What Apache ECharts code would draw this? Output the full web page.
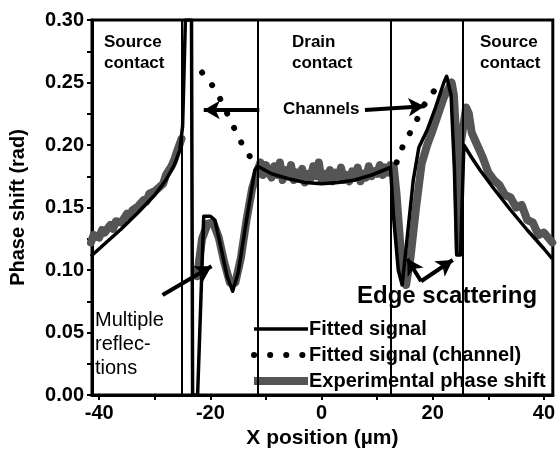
<!DOCTYPE html>
<html><head><meta charset="utf-8">
<script src="https://cdn.jsdelivr.net/npm/echarts@6/dist/echarts.min.js"></script>
<style>html,body{margin:0;padding:0;background:#fff}#c{width:558px;height:454px}</style>
</head><body><div id="c"></div>
<script>
// ---- data ----
const xTickLabels = [-40, -20, 0, 20, 40];
const xTicks = [-40, -30, -20, -10, 0, 10, 20, 30, 40];
const yTicks = [0, 0.025, 0.05, 0.075, 0.1, 0.125, 0.15, 0.175, 0.2, 0.225, 0.25, 0.275, 0.3];
const boundaries = [-25.2, -11.5, 12.4, 25.4];

const expX = [-41.5,-41,-40,-39.5,-39,-38,-37.5,-37,-36,-35,-34.5,-34,-33,-32,-31.5,-31,-30,-29,-28.5,-28,-27,-26.5,-26,-25.5,-25.2,
  -24.2,
  -22.4,-21.5,-20.5,-19.5,-18.5,-17.5,-16.5,-15.5,-14.5,-13.5,-12.5,
  -11.5,-11,-10.5,-10,-9.5,-9,-8.5,-8,-7.5,-7,-6.5,-6,-5.5,-5,-4.5,-4,-3.5,-3,-2.5,-2,-1.5,-1,-0.5,0,0.5,1,1.5,2,2.5,3,3.5,4,4.5,5,5.5,6,6.5,7,7.5,8,8.5,9,9.5,10,10.5,11,11.5,12,12.4,
  13,13.5,14,14.5,15.2,16,17,18,19,20,21,22,22.8,23.4,23.8,24.3,24.7,25,26,26.5,27,28,29,30,31,32,33,34,35,36,37,38,39,40,41.5];
const expY = [0.122,0.128,0.126,0.132,0.130,0.136,0.133,0.139,0.138,0.145,0.143,0.148,0.151,0.156,0.155,0.161,0.163,0.167,0.169,0.176,0.183,0.188,0.195,0.201,0.205,
  null,
  0.095,0.125,0.137,0.138,0.126,0.106,0.090,0.090,0.110,0.140,0.165,
  0.180,0.186,0.176,0.184,0.178,0.174,0.183,0.176,0.186,0.172,0.180,0.176,0.184,0.172,0.178,0.174,0.181,0.170,0.177,0.173,0.183,0.175,0.186,0.172,0.177,0.173,0.180,0.171,0.178,0.174,0.182,0.172,0.176,0.171,0.179,0.174,0.182,0.171,0.177,0.174,0.183,0.175,0.179,0.177,0.184,0.176,0.182,0.178,0.184,0.182,
  0.160,0.130,0.100,0.088,0.110,0.150,0.185,0.200,0.212,0.225,0.238,0.245,0.250,0.240,0.200,0.115,0.200,0.230,0.225,0.210,0.200,0.190,0.178,0.172,0.168,0.160,0.158,0.150,0.152,0.140,0.138,0.128,0.130,0.122,0.118];

const fitX = [-41.5,-39,-36,-33,-30,-28,-26.5,-25.5,-25.0,-24.5,-23.4,-23.2,-22.3,-21.2,-20.0,-19.2,-18.3,-17.0,-16.0,-15.0,-13.5,-12.0,-11.5,
  -9,-6,-3,0,3,6,9,12.4,
  13.0,13.8,14.5,15.5,16.5,17.5,19,20.5,22,22.5,23.3,23.9,24.3,25.0,25.6,27,28.5,31,34,37,40,41.5];
const fitY = [0.111,0.121,0.133,0.146,0.160,0.172,0.184,0.196,0.215,0.300,0.300,0.000,0.000,0.143,0.143,0.140,0.122,0.095,0.083,0.098,0.140,0.180,0.183,
  0.177,0.173,0.170,0.169,0.170,0.172,0.176,0.182,
  0.140,0.100,0.088,0.130,0.172,0.198,0.212,0.230,0.250,0.255,0.240,0.180,0.112,0.112,0.200,0.190,0.180,0.165,0.148,0.132,0.117,0.109];

const chX = [-21.5,-19,-16,-14,-12,null,13.5,14.7,16.7,18.3,20,22];
const chY = [0.258,0.244,0.216,0.198,0.185,null,0.186,0.200,0.216,0.231,0.242,0.252];

const seriesNames = ['Fitted signal', 'Fitted signal (channel)', 'Experimental phase shift'];

// ---- build ----
const pairs = (xs, ys) => xs.map((x, i) => (x === null || ys[i] === null) ? [x === null ? 0 : x, '-'] : [x, ys[i]]);
const FONT = "'Liberation Sans',Arial,sans-serif";
const chart = echarts.init(document.getElementById('c'), null, {renderer: 'canvas'});
const arrowLine = (a, b) => [{coord: a}, {coord: b}];

const fitStyle = {color: '#000', width: 3.5, join: 'round'};
const chStyle = {color: '#000', width: 6, type: [0.1, 16], cap: 'round'};
const expStyle = {color: '#555', width: 8, cap: 'round', join: 'round'};

chart.setOption({
  animation: false,
  backgroundColor: '#fff',
  grid: {left: 90, right: 3, top: 20, bottom: 57, show: true, borderColor: '#000', borderWidth: 3, backgroundColor: 'transparent'},
  xAxis: {
    type: 'value', min: -41.3, max: 41.6,
    name: 'X position (\u00b5m)', nameLocation: 'middle', nameGap: 33,
    nameTextStyle: {fontFamily: FONT, fontWeight: 'bold', fontSize: 21, color: '#000'},
    axisLine: {show: true, onZero: false, lineStyle: {color: '#000', width: 3}},
    axisTick: {show: true, inside: false, length: 5, customValues: xTicks, lineStyle: {color: '#000', width: 2}},
    axisLabel: {customValues: xTickLabels, fontFamily: FONT, fontWeight: 'bold', fontSize: 20, color: '#000', margin: 8},
    splitLine: {show: false}
  },
  yAxis: {
    type: 'value', min: 0, max: 0.30, interval: 0.05,
    name: 'Phase shift (rad)', nameLocation: 'middle', nameGap: 64,
    nameTextStyle: {fontFamily: FONT, fontWeight: 'bold', fontSize: 20, color: '#000'},
    axisLine: {show: true, onZero: false, lineStyle: {color: '#000', width: 3}},
    axisTick: {show: true, inside: false, length: 5, customValues: yTicks, lineStyle: {color: '#000', width: 2}},
    axisLabel: {fontFamily: FONT, fontWeight: 'bold', fontSize: 20, color: '#000', margin: 8,
      formatter: v => v.toFixed(2)},
    splitLine: {show: false}
  },
  legend: {
    show: true, orient: 'vertical', left: 245, top: 314, itemWidth: 54, itemHeight: 10, itemGap: 6,
    itemStyle: {opacity: 0},
    data: [
      {name: seriesNames[0], lineStyle: fitStyle, itemStyle: {opacity: 0}},
      {name: seriesNames[1], lineStyle: chStyle, itemStyle: {opacity: 0}},
      {name: seriesNames[2], lineStyle: {color: '#555', width: 8, cap: 'butt'}, itemStyle: {opacity: 0}}
    ],
    textStyle: {fontFamily: FONT, fontWeight: 'bold', fontSize: 20, color: '#000', padding: [0, 0, 0, -4]},
    selectedMode: false
  },
  series: [
    {
      name: seriesNames[2], type: 'line', data: pairs(expX, expY), symbol: 'none', z: 2,
      itemStyle: {color: '#555'},
      lineStyle: expStyle, connectNulls: false,
      markLine: {
        silent: true, symbol: 'none', animation: false,
        lineStyle: {color: '#000', width: 2, type: 'solid'}, label: {show: false},
        data: boundaries.map(b => ({xAxis: b}))
      }
    },
    {
      name: seriesNames[0], type: 'line', data: pairs(fitX, fitY), symbol: 'none', z: 3,
      itemStyle: {color: '#000'},
      lineStyle: fitStyle,
      markLine: {
        silent: true, symbol: ['none', 'arrow'], symbolSize: [14, 16], animation: false,
        lineStyle: {color: '#000', width: 4, type: 'solid'}, label: {show: false},
        data: [
          arrowLine([-11.2, 0.228], [-21.2, 0.228]),
          arrowLine([7.8, 0.228], [18.5, 0.231]),
          arrowLine([-28.6, 0.080], [-19.8, 0.103]),
          arrowLine([17.9, 0.091], [15.4, 0.109]),
          arrowLine([17.9, 0.091], [23.6, 0.108])
        ]
      }
    },
    {
      name: seriesNames[1], type: 'line', data: pairs(chX, chY), symbol: 'none', z: 3, connectNulls: false,
      itemStyle: {color: '#000'},
      lineStyle: chStyle
    }
  ],
  graphic: [
    {type: 'text', left: 104, top: 32, style: {text: 'Source\ncontact', font: "bold 17px " + FONT, fill: '#000', lineHeight: 21}},
    {type: 'text', left: 292, top: 32, style: {text: 'Drain\ncontact', font: "bold 17px " + FONT, fill: '#000', lineHeight: 21}},
    {type: 'text', left: 480, top: 32, style: {text: 'Source\ncontact', font: "bold 17px " + FONT, fill: '#000', lineHeight: 21}},
    {type: 'text', left: 283, top: 101, style: {text: 'Channels', font: "bold 17px " + FONT, fill: '#000'}},
    {type: 'text', left: 95, top: 308, style: {text: 'Multiple\nreflec-\ntions', font: "20px " + FONT, fill: '#000', lineHeight: 24}},
    {type: 'text', left: 357, top: 284, style: {text: 'Edge scattering', font: "bold 24px " + FONT, fill: '#000'}}
  ]
});
</script></body></html>
